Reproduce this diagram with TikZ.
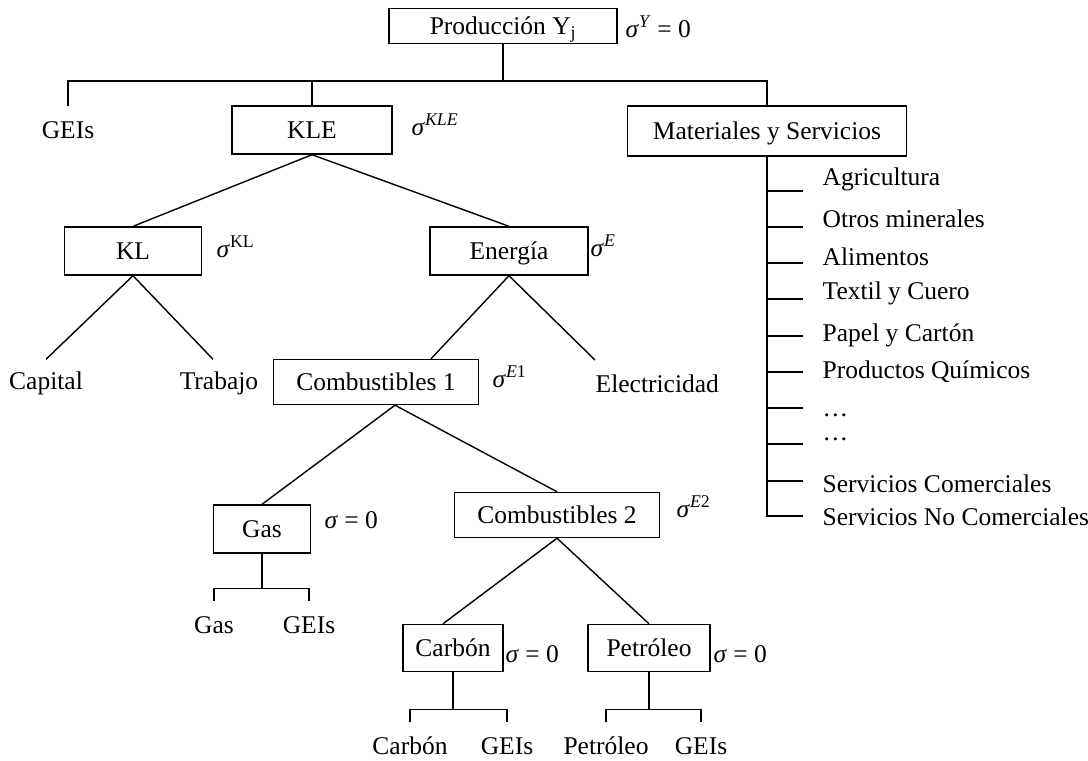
\documentclass[tikz,border=0pt]{standalone}
\usepackage{fontspec}
\setmainfont{Liberation Serif}
\newcommand{\sg}[1]{\textit{σ}\textsuperscript{#1}}

\begin{document}
\begin{tikzpicture}[x=1pt, y=-1pt, line width=1.4pt,
  every node/.style={font=\fontsize{25.5}{30}\selectfont},
  box/.style={draw, inner sep=0pt, text height=20pt, text depth=3pt,
    minimum height=48pt, minimum width=#1},
  leaf/.style={inner sep=0pt, minimum height=46pt},
  sig/.style={anchor=base west, inner sep=0pt},
  item/.style={anchor=west, inner sep=0pt}]
\useasboundingbox (0,0) rectangle (1088,761);
\node[box=228pt, minimum height=35pt] (prod) at (503,26) {Producción Y\textsubscript{j}};
\node[sig] (sy) at (625,37) {\sg{\textit{Y}} = 0};
\coordinate (bus) at (503,81);
\node[leaf] (geis) at (68,130) {GEIs};
\node[box=160pt] (kle) at (312,130) {KLE};
\node[sig] (skle) at (411,135) {\sg{\textit{KLE}}};
\node[box=279pt, minimum height=50pt] (mat) at (767,131) {Materiales y Servicios};
\node[box=137pt] (kl) at (133,251) {KL};
\node[sig] (skl) at (216,257) {\sg{KL}};
\node[box=158pt] (ener) at (509,251) {Energía};
\node[sig] (se) at (590,256) {\sg{\textit{E}}};
\node[leaf] (cap) at (46,383) {Capital};
\node[leaf] (trab) at (219,383) {Trabajo};
\node[box=205pt, minimum height=45pt] (comb1) at (376,382) {Combustibles 1};
\node[sig] (se1) at (492,387) {\sg{\textit{E}1}};
\node[leaf, anchor=north west] (elec) at (595,360) {Electricidad};
\node[box=97pt] (gas) at (262,529) {Gas};
\node[sig] (sgas) at (324,528) {\textit{σ} = 0};
\node[box=205pt, minimum height=45pt] (comb2) at (557,515) {Combustibles 2};
\node[sig] (se2) at (676,517) {\sg{\textit{E}2}};
\node[leaf] (gasg) at (214,625) {Gas};
\node[leaf] (gasgei) at (309,625) {GEIs};
\node[box=100pt, minimum height=47pt] (carb) at (453,648) {Carbón};
\node[sig] (scarb) at (505,662) {\textit{σ} = 0};
\node[box=122pt, minimum height=47pt] (petr) at (649,648) {Petróleo};
\node[sig] (spetr) at (713,662) {\textit{σ} = 0};
\node[leaf] (carbc) at (410,746) {Carbón};
\node[leaf] (carbg) at (507,746) {GEIs};
\node[leaf] (petrp) at (606,746) {Petróleo};
\node[leaf] (petrg) at (701,746) {GEIs};

\draw (prod.south) -- (bus);
\draw (geis.north) |- (bus) -| (mat.north);
\draw (bus -| kle.north) -- (kle.north);
\draw (kl.north) -- (kle.south) -- (ener.north);
\draw (cap.north) -- (kl.south) -- ([xshift=-6pt]trab.north);
\draw ([xshift=55pt]comb1.north) -- (ener.south) -- (elec.north west);
\draw (gas.north) -- ([xshift=19pt]comb1.south) -- (comb2.north);
\draw ([xshift=-10pt]carb.north) -- (comb2.south) -- (petr.north);
\draw (gas.south) -- ++(0,35) coordinate (gasj);
\draw (gasg.north) |- (gasj) -| (gasgei.north);
\draw (carb.south) -- ++(0,37) coordinate (carbj);
\draw (carbc.north) |- (carbj) -| (carbg.north);
\draw (petr.south) -- ++(0,37) coordinate (petrj);
\draw (petrp.north) |- (petrj) -| (petrg.north);

\coordinate (spinebot) at (mat.south |- 0,516);
\draw (mat.south) -- (spinebot) -- ++(36,0);
\foreach \ty/\ly/\txt [count=\i] in {191/179/Agricultura, 227/219/Otros minerales,
    263/257/Alimentos, 299/293/Textil y Cuero, 336/335/Papel y Cartón,
    372/372/Productos Químicos, 408/415/\dots, 444/439/\dots,
    481/484/Servicios Comerciales, 516/517/Servicios No Comerciales} {
  \node[item] (it\i) at (822,\ly) {\txt};
  \ifnum\i<10 \draw (mat.south |- 0,\ty) -- ++(36,0); \fi
}
\end{tikzpicture}
\end{document}
